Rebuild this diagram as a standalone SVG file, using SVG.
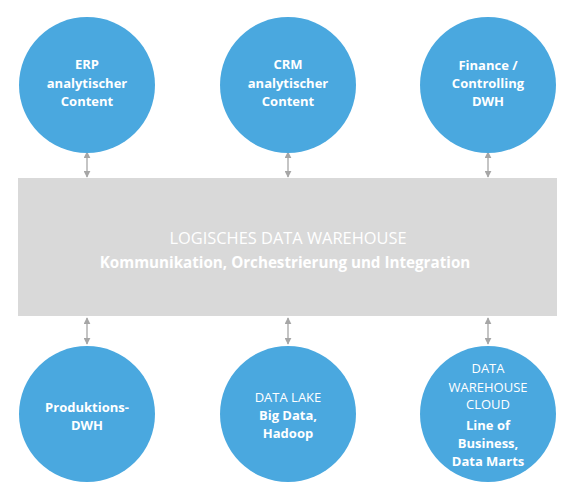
<svg xmlns="http://www.w3.org/2000/svg" width="578" height="491" viewBox="0 0 578 491">
<style>
.node circle{fill:#4aa8df}
text{font-family:"Open Sans","Liberation Sans",sans-serif;fill:#fff;text-anchor:middle;font-size:13px}
.b{font-weight:bold}
.conn line{stroke:#a6a6a6;stroke-width:1.3;marker-start:url(#ah);marker-end:url(#ah)}
</style>
<defs>
<marker id="ah" viewBox="0 0 10 10" refX="9" refY="5" markerWidth="7" markerHeight="7" markerUnits="userSpaceOnUse" orient="auto-start-reverse">
<path d="M0,0 L10,5 L0,10 z" fill="#a6a6a6"/>
</marker>
</defs>
<rect width="578" height="491" fill="#fff"/>
<g id="dwh">
<rect x="18" y="178" width="539" height="138" fill="#d9d9d9"/>
<text x="288" y="244" style="font-size:16.4px">LOGISCHES DATA WAREHOUSE</text>
<text x="285" y="268" class="b" style="font-size:15.2px">Kommunikation, Orchestrierung und Integration</text>
</g>
<g class="conn" id="connectors">
<line x1="87" y1="152" x2="87" y2="177"/>
<line x1="288" y1="152" x2="288" y2="177"/>
<line x1="488" y1="152" x2="488" y2="177"/>
<line x1="87" y1="318" x2="87" y2="344"/>
<line x1="288" y1="318" x2="288" y2="344"/>
<line x1="488" y1="318" x2="488" y2="344"/>
</g>
<g class="node" id="erp">
<circle cx="87" cy="85" r="68"/>
<text class="b" x="87" y="69">ERP</text>
<text class="b" x="87" y="88">analytischer</text>
<text class="b" x="87" y="106">Content</text>
</g>
<g class="node" id="crm">
<circle cx="288" cy="85" r="68"/>
<text class="b" x="288" y="69">CRM</text>
<text class="b" x="288" y="88">analytischer</text>
<text class="b" x="288" y="106">Content</text>
</g>
<g class="node" id="finance">
<circle cx="488" cy="85" r="68"/>
<text class="b" x="488" y="70">Finance /</text>
<text class="b" x="488" y="88">Controlling</text>
<text class="b" x="488" y="106">DWH</text>
</g>
<g class="node" id="produktion">
<circle cx="87" cy="414" r="68"/>
<text class="b" x="87" y="412">Produktions-</text>
<text class="b" x="87" y="430">DWH</text>
</g>
<g class="node" id="datalake">
<circle cx="288" cy="414" r="68"/>
<text x="288" y="402">DATA LAKE</text>
<text class="b" x="288" y="420">Big Data,</text>
<text class="b" x="288" y="438">Hadoop</text>
</g>
<g class="node" id="cloud">
<circle cx="488" cy="414" r="68"/>
<text x="488" y="373">DATA</text>
<text x="488" y="392">WAREHOUSE</text>
<text x="488" y="409">CLOUD</text>
<text class="b" x="488" y="430">Line of</text>
<text class="b" x="488" y="448">Business,</text>
<text class="b" x="488" y="466">Data Marts</text>
</g>
</svg>
